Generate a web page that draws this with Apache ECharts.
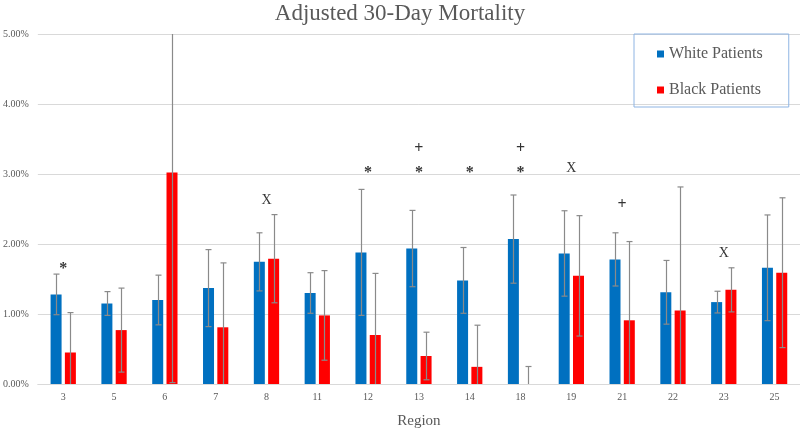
<!DOCTYPE html>
<html>
<head>
<meta charset="utf-8">
<script src="https://cdn.jsdelivr.net/npm/echarts@6/dist/echarts.min.js"></script>
<style>html,body{margin:0;padding:0;background:#fff}#c{width:800px;height:434px}</style>
</head>
<body>
<div id="c"></div>
<script>
var categories = ['3','5','6','7','8','11','12','13','14','18','19','21','22','23','25'];
var whiteVals = [1.28,1.15,1.20,1.37,1.745,1.30,1.88,1.935,1.48,2.07,1.865,1.78,1.31,1.17,1.66];
var whiteErr  = [0.29,0.17,0.355,0.55,0.415,0.29,0.90,0.545,0.47,0.63,0.61,0.38,0.455,0.155,0.755];
var blackVals = [0.45,0.77,3.02,0.81,1.79,0.98,0.70,0.40,0.245,0,1.545,0.91,1.05,1.345,1.59];
var blackErr  = [0.57,0.60,3.0,0.92,0.63,0.64,0.88,0.34,0.595,0.25,0.86,1.125,1.765,0.315,1.07];
var yTicks = [0,1,2,3,4,5];
var markCats = ['3','8','12','13','13','14','18','18','19','21','23'];
var markY    = [1.64,2.62,3.01,3.36,3.01,3.01,3.36,3.01,3.08,2.56,1.86];
var markText = ['*','X','*','+','*','*','+','*','X','+','X'];

var Y_MIN = yTicks[0], Y_MAX = yTicks[yTicks.length-1];
function errData(vals, errs){
  return vals.map(function(v,i){
    var lo = v - errs[i], hi = v + errs[i];
    return [i, Math.max(lo, Y_MIN), Math.min(hi, Y_MAX), hi <= Y_MAX ? 1 : 0, lo >= Y_MIN ? 1 : 0];
  });
}
function errRenderer(offset){
  return function(params, api){
    var i = api.value(0);
    var top = api.coord([i, api.value(2)]);
    var bot = api.coord([i, api.value(1)]);
    var x = Math.round(top[0] + offset) + 0.5;
    var st = {stroke:'#8a8a8a', lineWidth:1.2};
    var ch = [{type:'line', shape:{x1:x,y1:top[1],x2:x,y2:bot[1]}, style:st}];
    if (api.value(3)) ch.push({type:'line', shape:{x1:x-3,y1:top[1],x2:x+3,y2:top[1]}, style:st});
    if (api.value(4)) ch.push({type:'line', shape:{x1:x-3,y1:bot[1],x2:x+3,y2:bot[1]}, style:st});
    return {type:'group', children:ch};
  };
}
var FONT = 'Liberation Serif';
var chart = echarts.init(document.getElementById('c'));
chart.setOption({
  animation:false,
  title:{text:'Adjusted 30-Day Mortality', left:'center', top:-3,
    textStyle:{fontFamily:FONT, fontSize:23, fontWeight:'normal', color:'#595959'}},
  legend:{orient:'vertical', left:634, top:34, padding:[12,26,9,23], itemGap:20,
    itemWidth:7, itemHeight:7, icon:'rect', borderColor:'#8eb4e3', borderWidth:1,
    data:['White Patients','Black Patients'],
    textStyle:{fontFamily:FONT, fontSize:16, lineHeight:16, color:'#595959'}},
  grid:{left:35, right:0, top:34, bottom:39},
  xAxis:{type:'category', data:categories, name:'Region', nameLocation:'middle', nameGap:30,
    nameTextStyle:{fontFamily:FONT, fontSize:15, color:'#595959'},
    axisLine:{lineStyle:{color:'#d9d9d9'}}, axisTick:{show:false},
    axisLabel:{fontFamily:FONT, fontSize:10, color:'#595959', margin:8}},
  yAxis:{type:'value', min:Y_MIN, max:Y_MAX, interval:1,
    axisLine:{show:false}, axisTick:{show:false},
    splitLine:{lineStyle:{color:'#d9d9d9'}},
    axisLabel:{fontFamily:FONT, fontSize:10, color:'#595959', margin:9,
      formatter:function(v){return v.toFixed(2)+'%';}}},
  series:[
    {name:'White Patients', type:'bar', data:whiteVals, barWidth:11, barGap:'30%',
      itemStyle:{color:'#0070c0'}},
    {name:'Black Patients', type:'bar', data:blackVals, barWidth:11, barGap:'30%',
      itemStyle:{color:'#ff0000'}},
    {type:'custom', renderItem:errRenderer(-7.2), data:errData(whiteVals, whiteErr), z:5, silent:true},
    {type:'custom', renderItem:errRenderer(7.2), data:errData(blackVals, blackErr), z:5, silent:true},
    {type:'scatter', symbol:'circle', symbolSize:2, itemStyle:{color:'rgba(0,0,0,0)'}, z:6, silent:true,
      data:markCats.map(function(c,i){return [c, markY[i]];}),
      label:{show:true, position:'inside', color:'#000', fontFamily:FONT,
        formatter:function(p){var t=markText[p.dataIndex]; return (t==='X'?'{x|':'{s|')+t+'}';},
        rich:{s:{fontSize:16, fontWeight:'bold', color:'#000', fontFamily:FONT},
              x:{fontSize:14, color:'#000', fontFamily:FONT}}}}
  ]
});
</script>
</body>
</html>
